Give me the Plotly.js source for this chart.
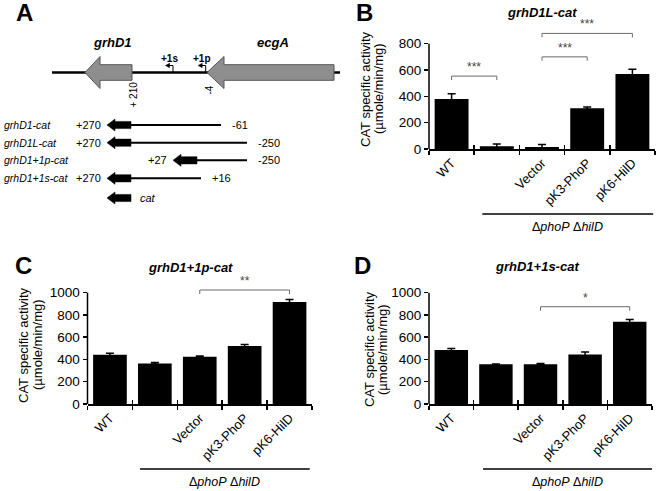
<!DOCTYPE html>
<html><head><meta charset="utf-8">
<script src="https://cdn.plot.ly/plotly-3.0.1.min.js"></script>
<style>html,body{margin:0;padding:0;background:#fff}#chart{width:660px;height:491px}</style>
</head><body><div id="chart"></div>
<script>
// ---------------- Data ----------------
const categories = ['WT', 'ΔphoPΔhilD', 'Vector', 'pK3-PhoP', 'pK6-HilD'];
const tickLabels = ['WT', '', 'Vector', 'pK3-PhoP', 'pK6-HilD'];
const catPos = [1, 2, 3, 4, 5];
const boundaries = [0.5, 1.5, 2.5, 3.5, 4.5, 5.5];

const valuesB = [380, 20, 15, 310, 570];
const errorsB = [40, 18, 20, 10, 35];
const valuesC = [443, 365, 424, 520, 916];
const errorsC = [14, 8, 7, 14, 22];
const valuesD = [485, 358, 358, 445, 740];
const errorsD = [14, 2, 6, 22, 20];

const yTicksB = [0, 200, 400, 600, 800];
const yTicksCD = [0, 200, 400, 600, 800, 1000];

// significance brackets: from category, to category, height, label
const sigFromB = [1, 3, 3], sigToB = [2, 4, 5], sigYB = [554, 700, 878], sigLabelB = ['***', '***', '***'];
const sigFromC = [3], sigToC = [5], sigYC = [1024], sigLabelC = ['**'];
const sigFromD = [3], sigToD = [5], sigYD = [874], sigLabelD = ['*'];

const titles = ['grhD1L-cat', 'grhD1+1p-cat', 'grhD1+1s-cat'];
const groupLabel = 'Δ<i>phoP</i> Δ<i>hilD</i>';

// ---------------- Panel A schematic (schematic units) ----------------
const geneNames = ['grhD1', 'ecgA'];
const geneTip = [85, 207];
const geneHeadLen = [15, 17];
const geneEnd = [132, 334];
const geneLabelX = [112, 273];
const promoterNames = ['+1s', '+1p'];
const promoterX = [173, 205.7];
const positionMarks = ['+ 210', '-4'];
const positionMarkX = [132.5, 208.5];
const positionMarkY = [95, 90];

const constructNames = ['grhD1-cat', 'grhD1L-cat', 'grhD1+1p-cat', 'grhD1+1s-cat', ''];
const constructLeft = ['+270', '+270', '+27', '+270', ''];
const constructRight = ['-61', '-250', '-250', '+16', 'cat'];
const constructTip = [107, 107, 173, 107, 107];
const constructLineEnd = [221, 247, 247, 201, 131];
const constructRowY = [125, 142.7, 160.3, 178.3, 198];

// ---------------- Build ----------------
const FONT = 'Liberation Sans, Arial, sans-serif';
const W = 660, H = 491;
const px = v => v / W, py = v => 1 - v / H;

const shapes = [], annotations = [], traces = [];
function ann(o) { annotations.push(Object.assign({showarrow: false, xanchor: 'center', yanchor: 'middle'}, o)); }

// Panel A
const mainY = 72.5;
shapes.push({type: 'line', xref: 'x', yref: 'y', x0: 52, x1: 347, y0: mainY, y1: mainY, line: {color: 'black', width: 2.5}});
function leftArrow(t, y, hl, hh, e, bh) {
  return `M ${t},${y} L ${t + hl},${y - hh} L ${t + hl},${y - bh} L ${e},${y - bh} L ${e},${y + bh} L ${t + hl},${y + bh} L ${t + hl},${y + hh} Z`;
}
for (let i = 0; i < geneNames.length; i++) {
  shapes.push({type: 'path', xref: 'x', yref: 'y', path: leftArrow(geneTip[i], mainY, geneHeadLen[i], 16, geneEnd[i], 7.8),
    fillcolor: '#8e8e8e', line: {color: '#555', width: 1}});
  ann({xref: 'x', yref: 'y', x: geneLabelX[i], y: 42, text: '<b><i>' + geneNames[i] + '</i></b>',
    font: {family: FONT, size: 13, color: 'black'}});
}
for (let i = 0; i < promoterNames.length; i++) {
  const x = promoterX[i];
  shapes.push({type: 'path', xref: 'x', yref: 'y', path: `M ${x},${mainY} L ${x},${mainY - 7} L ${x - 4},${mainY - 7}`, line: {color: 'black', width: 1}});
  shapes.push({type: 'path', xref: 'x', yref: 'y', path: `M ${x - 3.5},${mainY - 9.2} L ${x - 7.5},${mainY - 7} L ${x - 3.5},${mainY - 4.8} Z`, fillcolor: 'black', line: {color: 'black', width: 0.5}});
  ann({xref: 'x', yref: 'y', x: x - 4, y: 58, text: '<b>' + promoterNames[i] + '</b>',
    font: {family: FONT, size: 10, color: 'black'}});
}
for (let i = 0; i < positionMarks.length; i++) {
  ann({xref: 'x', yref: 'y', x: positionMarkX[i], y: positionMarkY[i], text: positionMarks[i], textangle: -90,
    font: {family: FONT, size: 10, color: 'black'}});
}
for (let i = 0; i < constructRowY.length; i++) {
  const y = constructRowY[i], t = constructTip[i];
  if (constructLineEnd[i] > t + 24) {
    shapes.push({type: 'line', xref: 'x', yref: 'y', x0: t + 20, x1: constructLineEnd[i], y0: y, y1: y, line: {color: 'black', width: 2}});
  }
  shapes.push({type: 'path', xref: 'x', yref: 'y', path: leftArrow(t, y, 8, 6, t + 24, 3.6), fillcolor: 'black', line: {color: 'black', width: 0.5}});
  if (constructNames[i]) ann({xref: 'x', yref: 'y', x: 1.5, y: y, xanchor: 'left', text: '<i>' + constructNames[i] + '</i>',
    font: {family: FONT, size: 10.5, color: 'black'}});
  if (constructLeft[i]) ann({xref: 'x', yref: 'y', x: t - 4, y: y, xanchor: 'right', text: constructLeft[i],
    font: {family: FONT, size: 11, color: 'black'}});
  const rx = Math.max(constructLineEnd[i], t + 24) + (constructRight[i] === 'cat' ? 7 : 9);
  ann({xref: 'x', yref: 'y', x: rx, y: y, xanchor: 'left',
    text: constructRight[i] === 'cat' ? '<i>cat</i>' : constructRight[i],
    font: {family: FONT, size: 11, color: 'black'}});
}
traces.push({type: 'scatter', x: [0], y: [0], xaxis: 'x', yaxis: 'y', mode: 'markers', marker: {opacity: 0}, hoverinfo: 'skip', showlegend: false});

// Bar panels
const panels = [
  {xa: 'x2', ya: 'y2', xo: 'x5', vals: valuesB, errs: errorsB, ticks: yTicksB, top: 800,
   xpx: [429, 655], ypx: [149, 20], scale: (149 - 43.7) / 800,
   from: sigFromB, to: sigToB, sy: sigYB, sl: sigLabelB, drop: 30,
   title: titles[0], titleXY: [542, 13], letter: 'B', letterXY: [365, 13],
   ytXY: [[365, 89], [378, 89]], lineY: 214, lineX: [1.68, 5.46], textY: 227},
  {xa: 'x3', ya: 'y3', xo: 'x6', vals: valuesC, errs: errorsC, ticks: yTicksCD, top: 1000,
   xpx: [87.5, 312], ypx: [404, 275], scale: (404 - 292.7) / 1000,
   from: sigFromC, to: sigToC, sy: sigYC, sl: sigLabelC, drop: 36,
   title: titles[1], titleXY: [190, 267], letter: 'C', letterXY: [23.5, 265],
   ytXY: [[23, 345], [37, 345]], lineY: 469, lineX: [1.67, 5.45], textY: 482},
  {xa: 'x4', ya: 'y4', xo: 'x7', vals: valuesD, errs: errorsD, ticks: yTicksCD, top: 1000,
   xpx: [429, 652], ypx: [404, 275], scale: (404 - 292.7) / 1000,
   from: sigFromD, to: sigToD, sy: sigYD, sl: sigLabelD, drop: 36,
   title: titles[2], titleXY: [537, 266], letter: 'D', letterXY: [362, 265],
   ytXY: [[369, 349], [382, 349]], lineY: 469, lineX: [1.71, 5.5], textY: 482}
];

const layout = {
  width: W, height: H, autosize: false, margin: {l: 0, r: 0, t: 0, b: 0},
  paper_bgcolor: 'white', plot_bgcolor: 'rgba(0,0,0,0)', showlegend: false,
  font: {family: FONT, color: 'black'},
  xaxis: {domain: [0, 340 / W], range: [0, 340], visible: false, fixedrange: true},
  yaxis: {domain: [py(250), 1], range: [250, 0], visible: false, fixedrange: true},
  shapes: shapes, annotations: annotations
};

ann({xref: 'paper', yref: 'paper', x: px(24), y: py(13), text: '<b>A</b>',
  font: {family: FONT, size: 24, color: 'black'}});

panels.forEach(p => {
  const xn = p.xa.slice(1), yn = p.ya.slice(1), on = p.xo.slice(1);
  const yTop = (p.ypx[0] - p.ypx[1]) / p.scale;
  layout['xaxis' + xn] = {domain: [px(p.xpx[0]), px(p.xpx[1])], anchor: p.ya, range: [0.5, 5.5],
    tickmode: 'array', tickvals: catPos, ticktext: tickLabels, tickangle: -45, ticks: '',
    tickfont: {family: FONT, size: 13, color: 'black'},
    showline: true, linecolor: 'black', linewidth: 1.5, showgrid: false, zeroline: false, fixedrange: true,
    minor: {tickmode: 'array', tickvals: boundaries, ticks: 'outside', ticklen: 4, tickwidth: 1.5, tickcolor: 'black', showgrid: false}};
  layout['xaxis' + on] = {overlaying: p.xa, anchor: p.ya, range: [0.5, 5.5], tickmode: 'array', tickvals: boundaries,
    ticks: 'inside', ticklen: 4, tickwidth: 1.5, tickcolor: 'black', showticklabels: false, showline: false,
    showgrid: false, zeroline: false, fixedrange: true};
  layout['yaxis' + yn] = {domain: [py(p.ypx[0]), py(p.ypx[1])], anchor: p.xa, range: [0, yTop],
    tickmode: 'array', tickvals: p.ticks, ticks: 'outside', ticklen: 4, tickwidth: 1.5, tickcolor: 'black',
    tickfont: {family: FONT, size: 13.5, color: 'black'}, showline: false, showgrid: false, zeroline: false, fixedrange: true};
  shapes.push({type: 'line', xref: p.xa + ' domain', yref: p.ya, x0: 0, x1: 0, y0: 0, y1: p.top, line: {color: 'black', width: 1.5}});
  traces.push({type: 'bar', x: catPos, y: p.vals, xaxis: p.xa, yaxis: p.ya, width: 0.75,
    marker: {color: 'black', line: {width: 0}},
    error_y: {type: 'data', array: p.errs, visible: true, color: 'black', thickness: 1.5, width: 4},
    hoverinfo: 'skip', showlegend: false});
  traces.push({type: 'scatter', x: [1], y: [0], xaxis: p.xo, yaxis: p.ya, mode: 'markers', marker: {opacity: 0}, hoverinfo: 'skip', showlegend: false});
  const bx = [], by = [];
  for (let i = 0; i < p.from.length; i++) {
    bx.push(p.from[i], p.from[i], p.to[i], p.to[i], null);
    by.push(p.sy[i] - p.drop, p.sy[i], p.sy[i], p.sy[i] - p.drop, null);
    ann({xref: p.xa, yref: p.ya, x: (p.from[i] + p.to[i]) / 2, y: p.sy[i], yanchor: 'bottom', yshift: 0,
      text: p.sl[i], font: {family: FONT, size: 12, color: '#444'}});
  }
  traces.push({type: 'scatter', mode: 'lines', x: bx, y: by, xaxis: p.xa, yaxis: p.ya,
    line: {color: '#6a6a6a', width: 1}, hoverinfo: 'skip', showlegend: false, connectgaps: false});
  ann({xref: 'paper', yref: 'paper', x: px(p.titleXY[0]), y: py(p.titleXY[1]), text: '<b><i>' + p.title + '</i></b>',
    font: {family: FONT, size: 13, color: 'black'}});
  ann({xref: 'paper', yref: 'paper', x: px(p.letterXY[0]), y: py(p.letterXY[1]), text: '<b>' + p.letter + '</b>',
    font: {family: FONT, size: 24, color: 'black'}});
  ann({xref: 'paper', yref: 'paper', x: px(p.ytXY[0][0]), y: py(p.ytXY[0][1]), text: 'CAT specific activity',
    textangle: -90, font: {family: FONT, size: 13, color: 'black'}});
  ann({xref: 'paper', yref: 'paper', x: px(p.ytXY[1][0]), y: py(p.ytXY[1][1]), text: '(µmole/min/mg)',
    textangle: -90, font: {family: FONT, size: 13, color: 'black'}});
  shapes.push({type: 'line', xref: p.xa, yref: 'paper', x0: p.lineX[0], x1: p.lineX[1], y0: py(p.lineY), y1: py(p.lineY),
    line: {color: 'black', width: 1.5}});
  ann({xref: p.xa, yref: 'paper', x: (p.lineX[0] + p.lineX[1]) / 2, y: py(p.textY), text: groupLabel,
    font: {family: FONT, size: 12.5, color: 'black'}});
});

Plotly.newPlot('chart', traces, layout, {staticPlot: true, displayModeBar: false});
</script>
</body></html>
